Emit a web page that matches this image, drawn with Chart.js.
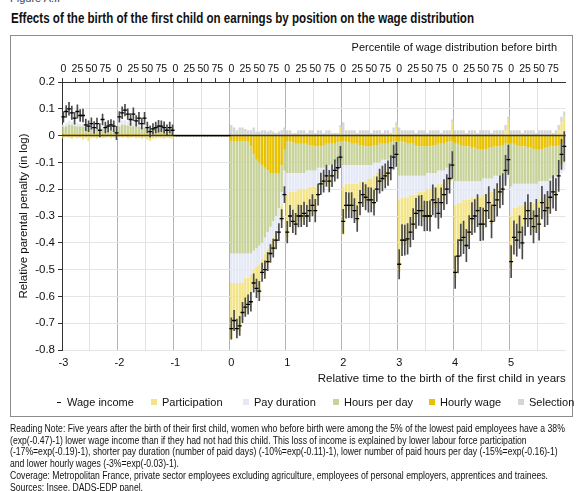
<!DOCTYPE html>
<html>
<head>
<meta charset="utf-8">
<script src="https://cdn.jsdelivr.net/npm/chart.js@4.4.0/dist/chart.umd.min.js"></script>
<style>
  body { margin: 0; width: 582px; height: 491px; position: relative; overflow: hidden; background: #fff;
         font-family: 'Liberation Sans', Arial, sans-serif; color: #111; }
  .abs { position: absolute; white-space: nowrap; }
  #figLabel { left: 10px; top: -8px; font-size: 11px; color: #444; }
  #title { left: 11px; top: 10px; font-size: 14px; font-weight: bold; transform-origin: 0 0; }
  #frame { left: 10px; top: 35px; width: 563px; height: 382px; border: 1px solid #8c8c8c; box-sizing: border-box; }
  #chartBox { left: 11px; top: 36px; width: 560px; height: 380px; }
  #pctTitle { right: 25px; top: 41px; font-size: 11px; }
  .leg { top: 396px; font-size: 11px; }
  .sw { display: inline-block; width: 6px; height: 6px; margin-right: 5px; vertical-align: 1px; }
  .dash { display: inline-block; width: 4px; height: 1.5px; background: #111; margin-right: 6px; vertical-align: 3px; }
  #notes { left: 10px; top: 423px; font-size: 10px; line-height: 11.7px; transform-origin: 0 0; }
</style>
</head>
<body>
<div id="figLabel" class="abs">Figure A.II</div>
<div id="title" class="abs">Effects of the birth of the first child on earnings by position on the wage distribution</div>
<div id="frame" class="abs"></div>
<div id="chartBox" class="abs"><canvas id="chart"></canvas></div>
<div id="pctTitle" class="abs">Percentile of wage distribution before birth</div>

<div class="abs leg" style="left:57px"><span class="dash"></span>Wage income</div>
<div class="abs leg" style="left:151px"><span class="sw" style="background:#f3e486"></span>Participation</div>
<div class="abs leg" style="left:243px"><span class="sw" style="background:#e5e9f5"></span>Pay duration</div>
<div class="abs leg" style="left:333px"><span class="sw" style="background:#c8d39b"></span>Hours per day</div>
<div class="abs leg" style="left:429px"><span class="sw" style="background:#e8c200"></span>Hourly wage</div>
<div class="abs leg" style="left:518px"><span class="sw" style="background:#d6d6d6"></span>Selection</div>

<div id="notes" class="abs">
Reading Note: Five years after the birth of their first child, women who before birth were among the 5% of the lowest paid employees have a 38%<br>
(exp(-0.47)-1) lower wage income than if they had not had this child. This loss of income is explained by lower labour force participation<br>
(-17%=exp(-0.19)-1), shorter pay duration (number of paid days) (-10%=exp(-0.11)-1), lower number of paid hours per day (-15%=exp(-0.16)-1)<br>
and lower hourly wages (-3%=exp(-0.03)-1).<br>
<span id="coverage">Coverage: Metropolitan France, private sector employees excluding agriculture, employees of personal employers, apprentices and trainees.</span><br>
Sources: Insee, DADS-EDP panel.
</div>

<script>
// #region data
const years = [-3, -2, -1, 0, 1, 2, 3, 4, 5];
const percentiles = [0, 5, 10, 15, 20, 25, 30, 35, 40, 45, 50, 55, 60, 65, 70, 75, 80, 85, 90, 95];
const topTickLabels = { 0: '0', 25: '25', 50: '50', 75: '75' };

// one row per year, one value per percentile bin
const wageIncome = [
    0.07, 0.09, 0.10, 0.085, 0.065, 0.09, 0.075, 0.075, 0.04, 0.035, 0.045, 0.03, 0.045, 0.02, 0.06, 0.03, 0.035, 0.04, 0.035, 0.01,
    0.07, 0.085, 0.095, 0.08, 0.06, 0.08, 0.055, 0.065, 0.045, 0.065, 0.03, 0.015, 0.025, 0.03, 0.035, 0.035, 0.03, 0.02, 0.03, 0.02,
    0, 0, 0, 0, 0, 0, 0, 0, 0, 0, 0, 0, 0, 0, 0, 0, 0, 0, 0, 0,
    -0.72, -0.69, -0.72, -0.71, -0.66, -0.64, -0.63, -0.62, -0.55, -0.57, -0.58, -0.51, -0.50, -0.47, -0.44, -0.42, -0.39, -0.36, -0.31, -0.22,
    -0.36, -0.30, -0.32, -0.33, -0.30, -0.30, -0.29, -0.30, -0.28, -0.26, -0.28, -0.22, -0.18, -0.17, -0.15, -0.17, -0.15, -0.13, -0.12, -0.08,
    -0.32, -0.26, -0.26, -0.26, -0.28, -0.31, -0.25, -0.22, -0.23, -0.24, -0.24, -0.25, -0.20, -0.17, -0.16, -0.15, -0.14, -0.12, -0.08, -0.07,
    -0.48, -0.39, -0.39, -0.385, -0.36, -0.33, -0.29, -0.28, -0.28, -0.30, -0.30, -0.30, -0.24, -0.25, -0.29, -0.25, -0.22, -0.20, -0.16, -0.11,
    -0.51, -0.45, -0.39, -0.38, -0.41, -0.36, -0.31, -0.30, -0.28, -0.33, -0.33, -0.28, -0.25, -0.32, -0.26, -0.24, -0.21, -0.20, -0.13, -0.09,
    -0.47, -0.38, -0.39, -0.36, -0.40, -0.31, -0.28, -0.31, -0.34, -0.30, -0.33, -0.25, -0.28, -0.27, -0.23, -0.21, -0.22, -0.15, -0.07, -0.04
];
// half width of the confidence interval
const wageError = [
    0.02, 0.022, 0.024, 0.025, 0.022, 0.025, 0.022, 0.024, 0.022, 0.02, 0.021, 0.022, 0.02, 0.025, 0.02, 0.02, 0.021, 0.02, 0.02, 0.025,
    0.02, 0.022, 0.022, 0.02, 0.022, 0.024, 0.02, 0.022, 0.02, 0.022, 0.02, 0.021, 0.02, 0.02, 0.022, 0.02, 0.021, 0.02, 0.02, 0.02,
    0, 0, 0, 0, 0, 0, 0, 0, 0, 0, 0, 0, 0, 0, 0, 0, 0, 0, 0, 0,
    0.04, 0.038, 0.035, 0.036, 0.038, 0.035, 0.036, 0.035, 0.034, 0.035, 0.036, 0.034, 0.033, 0.034, 0.033, 0.034, 0.033, 0.032, 0.034, 0.03,
    0.04, 0.04, 0.042, 0.04, 0.041, 0.04, 0.042, 0.04, 0.041, 0.04, 0.042, 0.04, 0.04, 0.041, 0.04, 0.04, 0.041, 0.04, 0.04, 0.04,
    0.045, 0.048, 0.046, 0.047, 0.045, 0.048, 0.046, 0.045, 0.047, 0.046, 0.045, 0.047, 0.046, 0.045, 0.046, 0.045, 0.046, 0.045, 0.045, 0.045,
    0.055, 0.058, 0.056, 0.057, 0.055, 0.058, 0.056, 0.055, 0.057, 0.056, 0.055, 0.057, 0.056, 0.055, 0.056, 0.055, 0.056, 0.055, 0.055, 0.05,
    0.06, 0.062, 0.06, 0.061, 0.06, 0.062, 0.06, 0.061, 0.06, 0.062, 0.06, 0.061, 0.06, 0.062, 0.06, 0.061, 0.06, 0.058, 0.056, 0.055,
    0.06, 0.062, 0.06, 0.061, 0.06, 0.062, 0.06, 0.061, 0.06, 0.062, 0.06, 0.061, 0.06, 0.062, 0.06, 0.061, 0.06, 0.058, 0.056, 0.055
];
const hourlyWage = [
    0.006, 0.005, 0.006, 0.005, 0.006, 0.005, 0.005, 0.006, 0.005, 0.004, 0.005, 0.004, 0.005, 0.004, 0.005, 0.004, 0.004, 0.005, 0.004, 0.004,
    0.005, 0.006, 0.005, 0.006, 0.005, 0.005, 0.006, 0.005, 0.004, 0.005, 0.004, 0.004, 0.005, 0.004, 0.004, 0.005, 0.004, 0.004, 0.005, 0.004,
    0, 0, 0, 0, 0, 0, 0, 0, 0, 0, 0, 0, 0, 0, 0, 0, 0, 0, 0, 0,
    -0.02, -0.02, -0.02, -0.02, -0.02, -0.02, -0.02, -0.04, -0.07, -0.09, -0.10, -0.11, -0.12, -0.13, -0.14, -0.14, -0.14, -0.14, -0.11, -0.05,
    -0.02, -0.02, -0.025, -0.03, -0.03, -0.03, -0.03, -0.03, -0.035, -0.035, -0.04, -0.04, -0.04, -0.035, -0.03, -0.03, -0.03, -0.03, -0.025, -0.02,
    -0.02, -0.02, -0.025, -0.03, -0.03, -0.03, -0.035, -0.035, -0.04, -0.04, -0.04, -0.035, -0.035, -0.03, -0.03, -0.03, -0.03, -0.025, -0.02, -0.02,
    -0.02, -0.02, -0.025, -0.03, -0.03, -0.03, -0.035, -0.04, -0.04, -0.04, -0.04, -0.04, -0.035, -0.035, -0.03, -0.03, -0.03, -0.025, -0.02, -0.02,
    -0.03, -0.03, -0.035, -0.04, -0.04, -0.04, -0.045, -0.045, -0.05, -0.05, -0.05, -0.05, -0.045, -0.045, -0.04, -0.04, -0.04, -0.035, -0.03, -0.03,
    -0.03, -0.03, -0.035, -0.04, -0.04, -0.04, -0.045, -0.045, -0.05, -0.05, -0.05, -0.05, -0.045, -0.045, -0.04, -0.04, -0.04, -0.035, -0.03, -0.03
];
const hoursPerDay = [
    0.025, 0.03, 0.035, 0.035, 0.03, 0.03, 0.03, 0.028, 0.025, 0.022, 0.02, 0.02, 0.018, 0.018, 0.02, 0.018, 0.015, 0.015, 0.015, 0.01,
    0.03, 0.035, 0.035, 0.032, 0.03, 0.03, 0.028, 0.028, 0.025, 0.025, 0.02, 0.018, 0.018, 0.02, 0.02, 0.02, 0.018, 0.015, 0.015, 0.012,
    0, 0, 0, 0, 0, 0, 0, 0, 0, 0, 0, 0, 0, 0, 0, 0, 0, 0, 0, 0,
    -0.42, -0.42, -0.42, -0.42, -0.42, -0.42, -0.42, -0.40, -0.36, -0.33, -0.31, -0.29, -0.26, -0.23, -0.20, -0.18, -0.16, -0.13, -0.10, -0.08,
    -0.12, -0.12, -0.115, -0.11, -0.11, -0.11, -0.11, -0.10, -0.095, -0.095, -0.09, -0.08, -0.08, -0.085, -0.08, -0.08, -0.08, -0.07, -0.075, -0.07,
    -0.09, -0.09, -0.085, -0.08, -0.08, -0.08, -0.075, -0.075, -0.07, -0.07, -0.07, -0.065, -0.065, -0.07, -0.06, -0.06, -0.06, -0.055, -0.06, -0.05,
    -0.13, -0.13, -0.125, -0.12, -0.12, -0.12, -0.115, -0.11, -0.11, -0.11, -0.10, -0.10, -0.105, -0.105, -0.10, -0.10, -0.10, -0.095, -0.10, -0.09,
    -0.14, -0.14, -0.135, -0.13, -0.13, -0.13, -0.125, -0.125, -0.12, -0.12, -0.11, -0.11, -0.115, -0.115, -0.11, -0.11, -0.11, -0.105, -0.11, -0.10,
    -0.16, -0.15, -0.145, -0.14, -0.14, -0.14, -0.135, -0.135, -0.13, -0.13, -0.12, -0.12, -0.125, -0.125, -0.12, -0.12, -0.11, -0.105, -0.08, -0.07
];
const payDuration = [
    0.01, 0.012, 0.015, 0.012, 0.01, 0.012, 0.01, 0.01, 0.008, 0.008, 0.01, 0.006, 0.008, 0.006, 0.01, 0.006, 0.008, 0.008, 0.006, 0.004,
    0.012, 0.015, 0.018, 0.015, 0.01, 0.015, 0.01, 0.012, 0.008, 0.012, 0.006, 0.004, 0.006, 0.006, 0.008, 0.008, 0.006, 0.005, 0.006, 0.004,
    0, 0, 0, 0, 0, 0, 0, 0, 0, 0, 0, 0, 0, 0, 0, 0, 0, 0, 0, 0,
    -0.11, -0.11, -0.11, -0.11, -0.11, -0.09, -0.09, -0.08, -0.07, -0.07, -0.07, -0.06, -0.06, -0.06, -0.06, -0.06, -0.06, -0.06, -0.05, -0.06,
    -0.08, -0.07, -0.07, -0.07, -0.06, -0.06, -0.06, -0.07, -0.06, -0.06, -0.06, -0.06, -0.05, -0.04, -0.04, -0.04, -0.03, -0.04, -0.03, -0.03,
    -0.08, -0.07, -0.07, -0.07, -0.07, -0.07, -0.06, -0.06, -0.06, -0.05, -0.05, -0.05, -0.04, -0.04, -0.04, -0.04, -0.03, -0.04, -0.03, -0.05,
    -0.09, -0.08, -0.08, -0.08, -0.07, -0.07, -0.07, -0.06, -0.06, -0.06, -0.06, -0.06, -0.05, -0.05, -0.05, -0.05, -0.04, -0.05, -0.04, -0.06,
    -0.09, -0.08, -0.08, -0.07, -0.07, -0.07, -0.06, -0.06, -0.06, -0.06, -0.06, -0.06, -0.05, -0.05, -0.05, -0.05, -0.04, -0.05, -0.03, -0.03,
    -0.11, -0.09, -0.09, -0.08, -0.08, -0.08, -0.07, -0.07, -0.07, -0.07, -0.07, -0.06, -0.06, -0.06, -0.05, -0.05, -0.05, -0.05, -0.03, -0.03
];
const participation = [
    -0.01, -0.005, -0.008, -0.012, -0.006, -0.01, -0.008, -0.015, -0.01, -0.02, -0.01, -0.008, -0.012, -0.006, -0.01, -0.008, -0.006, -0.01, -0.008, -0.012,
    -0.006, -0.008, -0.005, -0.01, -0.008, -0.006, -0.01, -0.008, -0.012, -0.008, -0.015, -0.02, -0.012, -0.01, -0.008, -0.01, -0.012, -0.008, -0.01, -0.012,
    0, 0, 0, 0, 0, 0, 0, 0, 0, 0, 0, 0, 0, 0, 0, 0, 0, 0, 0, 0,
    -0.21, -0.17, -0.19, -0.18, -0.14, -0.13, -0.12, -0.12, -0.07, -0.09, -0.11, -0.06, -0.08, -0.06, -0.05, -0.05, -0.04, -0.04, -0.06, -0.04,
    -0.16, -0.11, -0.12, -0.13, -0.12, -0.12, -0.11, -0.11, -0.11, -0.09, -0.10, -0.06, -0.03, -0.02, -0.02, -0.04, -0.02, -0.01, -0.01, 0.03,
    -0.18, -0.10, -0.10, -0.10, -0.12, -0.14, -0.10, -0.07, -0.08, -0.10, -0.09, -0.12, -0.08, -0.05, -0.04, -0.04, -0.04, -0.01, 0.01, 0.04,
    -0.27, -0.18, -0.18, -0.175, -0.16, -0.13, -0.08, -0.09, -0.09, -0.11, -0.11, -0.12, -0.07, -0.08, -0.13, -0.08, -0.07, -0.05, -0.02, 0.05,
    -0.27, -0.22, -0.16, -0.16, -0.18, -0.14, -0.10, -0.09, -0.06, -0.12, -0.13, -0.08, -0.06, -0.12, -0.08, -0.06, -0.04, -0.03, 0.02, 0.06,
    -0.19, -0.13, -0.14, -0.12, -0.15, -0.07, -0.05, -0.08, -0.11, -0.06, -0.11, -0.04, -0.07, -0.06, -0.04, -0.01, -0.04, 0.02, 0.05, 0.07
];
const selection = [
    0, 0, 0, 0, 0, 0, 0, 0, 0, 0, 0, 0, 0, 0, 0, 0, 0, 0, 0, 0,
    0, 0, 0, 0, 0, 0, 0, 0, 0, 0, 0, 0, 0, 0, 0, 0, 0, 0, 0, 0,
    0, 0, 0, 0, 0, 0, 0, 0, 0, 0, 0, 0, 0, 0, 0, 0, 0, 0, 0, 0,
    0.04, 0.03, 0.02, 0.03, 0.03, 0.025, 0.02, 0.02, 0.03, 0.015, 0.015, 0.02, 0.02, 0.015, 0.02, 0.015, 0.01, 0.015, 0.02, 0.03,
    0.02, 0.02, 0.01, 0.01, 0.02, 0.02, 0.02, 0.01, 0.02, 0.02, 0.01, 0.02, 0.02, 0.01, 0.02, 0.02, 0.01, 0.01, 0.01, 0.01,
    0.05, 0.02, 0.02, 0.02, 0.02, 0.01, 0.02, 0.02, 0.02, 0.02, 0.01, 0.02, 0.02, 0.02, 0.01, 0.02, 0.02, 0.01, 0.02, 0.01,
    0.03, 0.02, 0.02, 0.02, 0.02, 0.02, 0.01, 0.02, 0.02, 0.02, 0.01, 0.02, 0.02, 0.02, 0.02, 0.01, 0.02, 0.02, 0.02, 0.01,
    0.02, 0.02, 0.02, 0.02, 0.01, 0.02, 0.02, 0.02, 0.01, 0.02, 0.02, 0.02, 0.02, 0.01, 0.02, 0.02, 0.02, 0.02, 0.02, 0.01,
    0.02, 0.02, 0.02, 0.02, 0.01, 0.02, 0.02, 0.02, 0.02, 0.01, 0.02, 0.02, 0.02, 0.02, 0.02, 0.01, 0.02, 0.02, 0.02, 0.02
];
// #endregion data

const labels = years.flatMap(y => percentiles.map(p => y + ':' + p));
const ciBars = wageIncome.map((v, i) => wageError[i] ? [v - wageError[i], v + wageError[i]] : null);

// squeeze the narrow print fonts of the original
function squeeze(el, target) {
    const w = el.getBoundingClientRect().width;
    el.style.transform = `scaleX(${target / w})`;
}
squeeze(document.querySelector('#title'), 463);
const notes = document.querySelector('#notes');
const cov = document.querySelector('#coverage').getBoundingClientRect().width;
notes.style.transform = `scaleX(${538 / cov})`;

Chart.defaults.font.family = "'Liberation Sans', Arial, sans-serif";
Chart.defaults.font.size = 11;
Chart.defaults.color = '#111';

// dark zero line drawn over the bars but under the wage markers
const zeroLine = {
    id: 'zeroLine',
    afterDatasetDraw(chart, args) {
        if (args.index !== 1) return;
        const { ctx, chartArea, scales } = chart;
        const y = scales.y.getPixelForValue(0);
        ctx.save();
        ctx.strokeStyle = '#3b3722';
        ctx.lineWidth = 1.5;
        ctx.beginPath();
        ctx.moveTo(chartArea.left, y);
        ctx.lineTo(chartArea.right, y);
        ctx.stroke();
        ctx.restore();
    }
};

const barOpts = { categoryPercentage: 1, barPercentage: 0.85, borderWidth: 0 };

new Chart(document.querySelector('#chart'), {
    type: 'bar',
    data: {
        labels: labels,
        datasets: [
            {
                type: 'line', label: 'Wage income', data: wageIncome, showLine: false,
                pointStyle: 'line', pointRadius: 2, pointBorderWidth: 1.3,
                borderColor: '#000', backgroundColor: '#000'
            },
            {
                label: 'CI', data: ciBars, stack: 'ci', grouped: false,
                barThickness: 1, backgroundColor: '#4a4a4a', borderWidth: 0
            },
            { label: 'Hourly wage', data: hourlyWage, backgroundColor: '#e8c200', ...barOpts },
            { label: 'Hours per day', data: hoursPerDay, backgroundColor: '#c8d39b', ...barOpts },
            { label: 'Pay duration', data: payDuration, backgroundColor: '#e5e9f5', ...barOpts },
            { label: 'Participation', data: participation, backgroundColor: '#f3e486', ...barOpts },
            { label: 'Selection', data: selection, backgroundColor: '#d6d6d6', ...barOpts }
        ]
    },
    options: {
        responsive: true,
        maintainAspectRatio: false,
        animation: false,
        layout: { padding: { top: 0, right: 0, bottom: 28, left: 0 } },
        plugins: {
            legend: { display: false },
            tooltip: { enabled: false }
        },
        scales: {
            x: {
                stacked: true,
                offset: true,
                grid: {
                    offset: true,
                    drawTicks: false,
                    color: c => c.index % 20 === 0 ? '#b2b2b2' : (c.index % 10 === 0 ? '#e2e2e2' : 'rgba(0,0,0,0)')
                },
                border: { display: false },
                ticks: {
                    autoSkip: false, maxRotation: 0, padding: 6,
                    callback: (v, i) => i % 20 === 0 ? String(years[i / 20]) : ''
                },
                title: {
                    display: true, align: 'end',
                    text: 'Relative time to the birth of the first child in years',
                    font: { size: 11.5 },
                    padding: { top: 0, bottom: 2 }
                },
                afterFit: s => { s.height = 38; }
            },
            xTop: {
                type: 'category',
                axis: 'x',
                position: 'top',
                offset: true,
                grid: {
                    offset: true, drawOnChartArea: false, tickLength: 4,
                    color: 'rgba(0,0,0,0)',
                    tickColor: c => c.index % 5 === 0 ? '#333' : 'rgba(0,0,0,0)'
                },
                border: { display: true, color: '#333' },
                ticks: {
                    autoSkip: false, maxRotation: 0, padding: 3,
                    font: { size: 10.5 },
                    callback: (v, i) => topTickLabels[percentiles[i % 20]] || ''
                },
                afterFit: s => { s.height = 46; }
            },
            y: {
                stacked: true,
                min: -0.8,
                max: 0.2,
                ticks: { stepSize: 0.1, padding: 3, font: { size: 11.5 }, callback: v => Math.round(v * 10) / 10 },
                grid: { color: '#e4e4e4', tickColor: '#333', tickLength: 4 },
                border: { color: '#333' },
                title: {
                    display: true, text: 'Relative parental penalty (in log)',
                    font: { size: 11.5 }, padding: { top: 6, bottom: 0 }
                },
                afterFit: s => { s.width = 51; }
            }
        }
    },
    plugins: [zeroLine]
});
</script>
</body>
</html>
